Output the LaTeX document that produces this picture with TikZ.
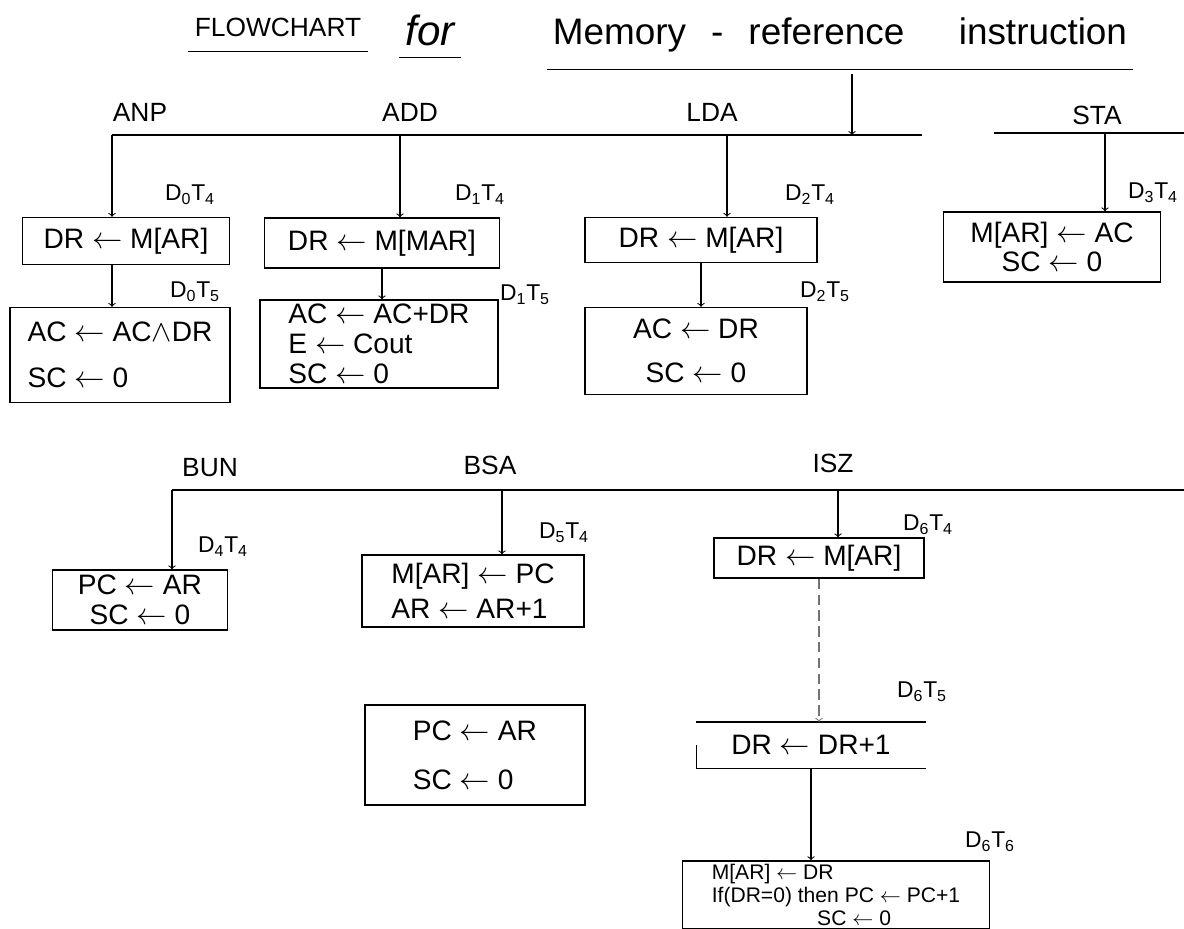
\documentclass[tikz,border=0pt]{standalone}
\usepackage{fontspec}
\setmainfont{Liberation Sans}
\newcommand{\ld}{\ensuremath{\leftarrow}}

\begin{document}
\begin{tikzpicture}[x=0.02cm, y=-0.02cm, line width=0.6pt,
	box/.style={draw, line width=0.8pt, inner sep=2pt, align=center, font=\fontsize{16}{20}\selectfont},
	tag/.style={font=\fontsize{13}{15}\selectfont},
	opname/.style={font=\fontsize{15}{18}\selectfont},
	flow/.style={->, line width=0.6pt}]
	\useasboundingbox (0,0) rectangle (1184,929);
	% Title:
	\node[font=\fontsize{15}{18}\selectfont] (ttlA) at (278,27) {FLOWCHART};
	\node[font=\fontsize{24}{26}\selectfont\itshape] (ttlB) at (430,30) {for};
	\node[font=\fontsize{21}{24}\selectfont] (ttlC) at (840,35) {Memory\hspace{0.4em} - \hspace{0.4em}reference\hspace{1.2em} instruction};
	\draw ([yshift=-5pt]ttlA.south west) -- ([yshift=-5pt]ttlA.south east);
	\draw ([yshift=-3pt]ttlB.south west) -- ([yshift=-3pt]ttlB.south east);
	\draw ([yshift=-6pt]ttlC.south west) -- ([yshift=-6pt]ttlC.south east);
	\coordinate (feed) at (852,74);
	% First row:
	\coordinate (busAL) at (112,135);
	\coordinate (busAR) at (922,135);
	\coordinate (busBL) at (994,133);
	\coordinate (busBR) at (1184,133);
	\coordinate (jADD) at (400,135);
	\coordinate (jLDA) at (727,135);
	\coordinate (jSTA) at (1105,133);
	\draw (busAL) -- (busAR);
	\draw (busBL) -- (busBR);
	\draw[flow] (feed) -- (feed |- busAR);
	\node[opname] (nAND) at (140,112) {ANP};
	\node[opname] (nADD) at (410,112) {ADD};
	\node[opname] (nLDA) at (712,112) {LDA};
	\node[opname] (nSTA) at (1097,115) {STA};
	\node[box, minimum width=207*0.02cm, minimum height=47*0.02cm] (and1) at (126,241) {DR \ld{} M[AR]};
	\node[box, minimum width=220*0.02cm, minimum height=95*0.02cm, align=left] (and2) at (120,355) {AC \ld{} AC$\wedge$DR\\[6pt] SC \ld{} 0};
	\node[box, minimum width=235*0.02cm, minimum height=50*0.02cm] (add1) at (382,243) {DR \ld{} M[MAR]};
	\node[box, minimum width=238*0.02cm, minimum height=88*0.02cm, align=left] (add2) at (379,344) {AC \ld{} AC+DR\\[-3pt] E \ld{} Cout\\[-3pt] SC \ld{} 0};
	\node[box, minimum width=232*0.02cm, minimum height=45*0.02cm] (lda1) at (701,240) {DR \ld{} M[AR]};
	\node[box, minimum width=222*0.02cm, minimum height=87*0.02cm] (lda2) at (696,351) {AC \ld{} DR\\[5pt] SC \ld{} 0};
	\node[box, minimum width=217*0.02cm, minimum height=70*0.02cm] (sta1) at (1052,247) {M[AR] \ld{} AC\\[-3pt] SC \ld{} 0};
	\draw[flow] (busAL) -- (busAL |- and1.north);
	\draw[flow] (jADD) -- (jADD |- add1.north);
	\draw[flow] (jLDA) -- (jLDA |- lda1.north);
	\draw[flow] (jSTA) -- (jSTA |- sta1.north);
	\draw[flow] (and1.south -| busAL) -- (and2.north -| busAL);
	\draw[flow] (add1.south) -- (add1.south |- add2.north);
	\draw[flow] (lda1.south) -- (lda1.south |- lda2.north);
	\node[tag] (tA4) at (190,195) {D\textsubscript{0}T\textsubscript{4}};
	\node[tag] (tA5) at (195,292) {D\textsubscript{0}T\textsubscript{5}};
	\node[tag] (tB4) at (480,195) {D\textsubscript{1}T\textsubscript{4}};
	\node[tag] (tB5) at (525,295) {D\textsubscript{1}T\textsubscript{5}};
	\node[tag] (tC4) at (810,195) {D\textsubscript{2}T\textsubscript{4}};
	\node[tag] (tC5) at (825,292) {D\textsubscript{2}T\textsubscript{5}};
	\node[tag] (tD4) at (1153,193) {D\textsubscript{3}T\textsubscript{4}};
	% Second row:
	\coordinate (busCL) at (172,490);
	\coordinate (busCR) at (1184,490);
	\coordinate (jBSA) at (502,490);
	\coordinate (jISZ) at (838,490);
	\draw (busCL) -- (busCR);
	\node[opname] (nBUN) at (210,468) {BUN};
	\node[opname] (nBSA) at (490,465) {BSA};
	\node[opname] (nISZ) at (833,463) {ISZ};
	\node[box, minimum width=175*0.02cm, minimum height=60*0.02cm] (bun1) at (140,600) {PC \ld{} AR\\[-3pt] SC \ld{} 0};
	\node[box, minimum width=222*0.02cm, minimum height=72*0.02cm, align=left] (bsa1) at (473,591) {M[AR] \ld{} PC\\ AR \ld{} AR+1};
	\node[box, minimum width=220*0.02cm, minimum height=100*0.02cm, align=left] (bsa2) at (475,755) {PC \ld{} AR\\[8pt] SC \ld{} 0};
	\node[box, minimum width=210*0.02cm, minimum height=40*0.02cm] (isz1) at (819,558) {DR \ld{} M[AR]};
	\node[box, draw=none, minimum width=228*0.02cm, minimum height=45*0.02cm] (isz2) at (811,745) {DR \ld{} DR+1};
	\node[box, minimum width=307*0.02cm, minimum height=66*0.02cm, align=left, font=\fontsize{12}{13}\selectfont] (isz3) at (836,895) {M[AR] \ld{} DR\\ If(DR=0) then PC \ld{} PC+1\\ \hspace{5em}SC \ld{} 0};
	\draw[line width=0.8pt] (isz2.north west) -- (isz2.north east);
	\draw[line width=0.8pt] (isz2.west) -- (isz2.south west) -- (isz2.south east);
	\draw[flow] (busCL) -- (busCL |- bun1.north);
	\draw[flow] (jBSA) -- (jBSA |- bsa1.north);
	\draw[flow] (jISZ) -- (jISZ |- isz1.north);
	\draw[flow, black!55, dash pattern=on 6pt off 3pt] (isz1.south) -- (isz1.south |- isz2.north);
	\draw[flow] (isz2.south) -- (isz2.south |- isz3.north);
	\node[tag] (tE4) at (223,547) {D\textsubscript{4}T\textsubscript{4}};
	\node[tag] (tF4) at (564,533) {D\textsubscript{5}T\textsubscript{4}};
	\node[tag] (tG4) at (928,525) {D\textsubscript{6}T\textsubscript{4}};
	\node[tag] (tG5) at (922,692) {D\textsubscript{6}T\textsubscript{5}};
	\node[tag] (tG6) at (990,842) {D\textsubscript{6}T\textsubscript{6}};
\end{tikzpicture}
\end{document}
